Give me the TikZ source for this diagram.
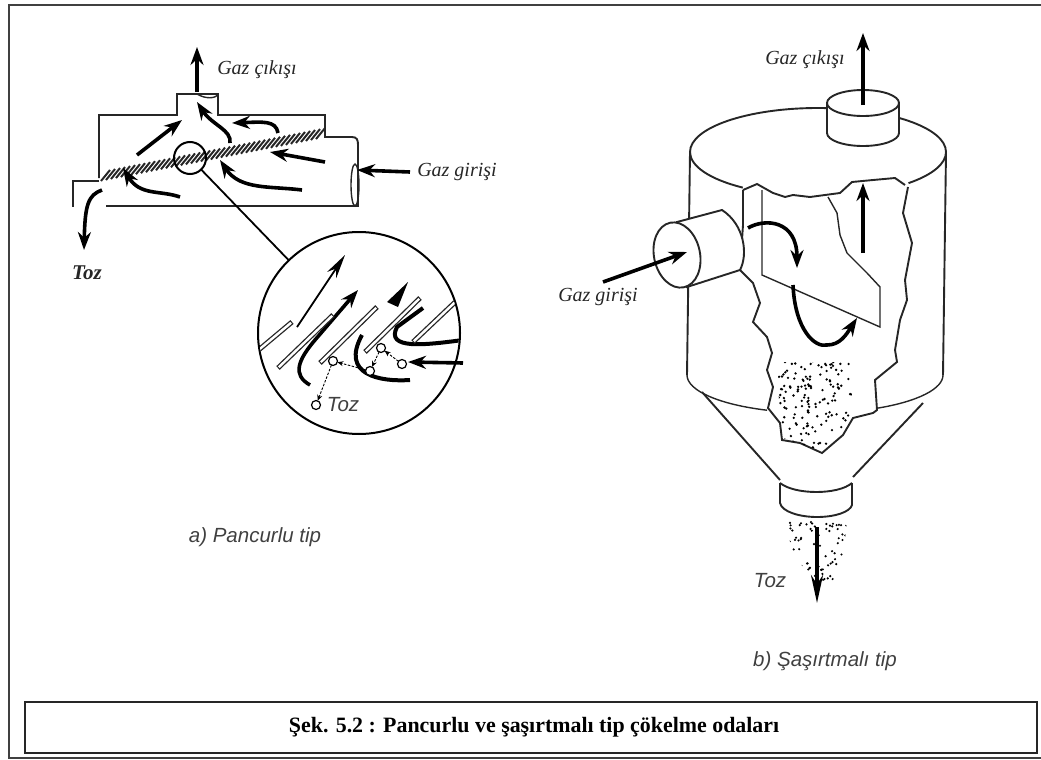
\documentclass[tikz,border=0pt]{standalone}
\usepackage{fontspec}
\setmainfont{Liberation Serif}
\setsansfont{Liberation Sans}
\usetikzlibrary{arrows.meta}

\begin{document}
\begin{tikzpicture}[
x=1pt, y=-1pt,
wall/.style={line width=1.9pt, black!85},
thin wall/.style={line width=1.4pt, black!85},
flow/.style={-{Stealth[length=18pt, width=13pt]}, line width=3.6pt, black},
thin flow/.style={-{Stealth[length=24pt, width=11pt]}, line width=1.8pt, black},
stroke/.style={line width=4pt, black},
particle/.style={circle, draw, line width=1.2pt, fill=white, minimum size=9pt, inner sep=0pt, outer sep=0pt},
drop/.style={dashed, dash pattern=on 2.5pt off 1.5pt, line width=0.9pt, -{Stealth[length=6pt, width=5pt]}},
lbl/.style={font=\fontsize{20}{22}\selectfont\itshape, black!85, inner sep=0pt},
sanslbl/.style={font=\fontsize{20.5}{23}\selectfont\sffamily\itshape, black!75, inner sep=0pt}
]
\useasboundingbox (0,0) rectangle (1041,760);
\draw[line width=2.6pt, black!75] (1041,5) -- (9,5) -- (9,758) -- (1041,758);
\node[draw=black!85, line width=2.2pt, minimum width=1012pt, minimum height=51pt, anchor=north west, inner sep=0pt,
      font=\fontsize{21.9}{25}\selectfont\bfseries] (caption) at (24,701) {\hspace*{6pt}\raisebox{-1.5pt}{Şek. 5.2 : Pancurlu ve şaşırtmalı tip çökelme odaları}};

\draw[wall] (99,178) -- (99,115) -- (177,115) -- (177,94) -- (218,94) -- (218,115) -- (325,115) -- (325,137) -- (352,137) .. controls (357,137) and (358,140) .. (358,145) -- (358,206) -- (106,206);
\draw[wall] (99,181) -- (73,181) -- (73,207);
\draw[thin wall] (197,94) .. controls (205,99) and (216,99) .. (218,94);
\draw[thin wall] (355,185) ellipse [x radius=4, y radius=21];
\foreach \k in {0,...,43}
  \draw[line width=2pt, black!85] ({101+5*\k},{181-0.975*\k}) -- ({110+5*\k},{170-0.975*\k});
\node[circle, draw, line width=2pt, minimum size=32pt, inner sep=0pt, outer sep=0pt] (lens) at (190,158) {};
\node[circle, draw, line width=2pt, minimum size=202pt, inner sep=0pt, outer sep=0pt] (detail) at (359,333) {};
\draw[line width=1.8pt] (lens) -- (detail);

\draw[flow] (197,92) -- (197,47);
\draw[flow] (137,155) -- (182,120);
\draw[flow] (230,143) .. controls (232,130) and (212,125) .. (197,102);
\draw[flow] (278,133) .. controls (276,120) and (262,122) .. (232,123);
\draw[flow] (325,162) -- (270,152);
\draw[flow] (302,190) .. controls (270,186) and (240,190) .. (220,160);
\draw[flow] (180,197) .. controls (160,190) and (140,196) .. (123,168);
\draw[flow] (410,172) -- (357,170);
\draw[flow] (102,190) .. controls (88,195) and (85,205) .. (84,250);

\node[lbl] (outleft) at (257,70) {Gaz çıkışı};
\node[lbl] (inleft) at (457,172) {Gaz girişi};
\node[lbl, font=\fontsize{21}{23}\selectfont\bfseries\itshape] (tozleft) at (87,273) {Toz};
\node[sanslbl] (typea) at (255,537) {a) Pancurlu tip};

\draw[thin flow] (297,327) -- (345,255);
\draw[flow] (310,385) .. controls (292,375) and (298,360) .. (315,340) -- (358,290);
\fill (408,282) -- (387,302) -- (398,307) -- cycle;
\draw[flow] (463,363) -- (408,362);
\begin{scope}
\clip (359,333) circle (100);
\draw[stroke] (410,380) .. controls (380,382) and (340,375) .. (362,335);
\draw[stroke] (463,340) .. controls (425,345) and (385,350) .. (397,327) -- (423,308);
\foreach \ax/\ay/\bx/\by in {255/353/292/322, 278/368/333/315, 320/363/377/307, 365/352/420/298, 413/342/470/288} {
  \draw[line width=5pt, black!85] (\ax,\ay) -- (\bx,\by);
  \draw[line width=2.4pt, white, shorten >=1.2pt, shorten <=1.2pt] (\ax,\ay) -- (\bx,\by);
}
\end{scope}

\node[particle] (pa) at (333,361) {};
\node[particle] (pb) at (381,348) {};
\node[particle] (pc) at (370,371) {};
\node[particle] (pd) at (402,364) {};
\node[particle] (pe) at (316,405) {};
\node[sanslbl] (tozdetail) at (343,405) {Toz};
\draw[drop] (pa) -- (pe);
\draw[drop] (pb) -- (pc);
\draw[drop] (pd) -- (pb);
\draw[drop] (pc) -- (pa);

\draw[wall] (690,152) -- (687,375);
\draw[wall] (946,152) -- (943,375);
\draw[wall] (690,152) arc [start angle=180, end angle=360, x radius=128, y radius=44];
\draw[wall] (690,152) arc [start angle=180, end angle=126, x radius=128, y radius=44];
\draw[wall] (946,152) arc [start angle=0, end angle=45, x radius=128, y radius=44];
\draw[thin wall] (687,375) arc [start angle=180, end angle=112, x radius=128, y radius=38];
\draw[thin wall] (943,375) arc [start angle=0, end angle=61, x radius=128, y radius=38];
\draw[wall] (702,392) -- (780,480);
\draw[wall] (923,403) -- (853,477);
\draw[wall] (780,483) .. controls (795,495) and (838,495) .. (852,483);
\draw[wall] (780,483) -- (780,503) .. controls (782,512) and (800,517) .. (817,517) .. controls (835,517) and (850,512) .. (852,505) -- (852,483);

\draw[wall] (743,190) -- (757,184) -- (773,193) -- (785,197) -- (793,195) -- (810,197) -- (840,193) -- (852,182) -- (873,180) -- (895,178) -- (905,185);
\draw[wall] (743,190) -- (743,225) -- (740,270) -- (753,283) -- (760,303) -- (753,322) -- (767,337) -- (772,353) -- (767,370) -- (773,387) -- (768,408) -- (780,423) -- (782,440) -- (800,443) -- (822,453) -- (843,435) -- (853,418) -- (873,413) -- (877,410) -- (875,380) -- (897,362) -- (895,350) -- (900,320) -- (907,300) -- (905,280) -- (912,243) -- (903,213) -- (908,187);
\draw[thin wall] (828,197) -- (837,213) -- (840,235) -- (847,253) -- (867,273) -- (880,287) -- (880,327) -- (762,275) -- (762,190);

\begin{scope}
\clip (778,362) rectangle (855,455);
\clip (775,360) -- (850,360) -- (853,416) -- (822,451) -- (783,438) -- cycle;
\pgfmathsetseed{52}
\foreach \k in {1,...,170}
  \fill ({775+80*rnd},{360+95*rnd}) circle (1.3);
\end{scope}
\begin{scope}
\clip (783,520) -- (847,520) -- (843,560) -- (832,582) -- (820,582) -- (796,560) -- cycle;
\pgfmathsetseed{17}
\foreach \k in {1,...,90}
  \fill ({783+64*rnd},{520+62*rnd}) circle (1.2);
\end{scope}

\draw[wall, fill=white] (827,103) -- (827,133) arc [start angle=180, end angle=0, x radius=36, y radius=13] -- (899,103);
\draw[wall, fill=white] (863,103) ellipse [x radius=36, y radius=13];
\draw[wall, fill=white] (677,222) -- (722,210) .. controls (745,225) and (748,255) .. (740,270) -- (687,287) -- cycle;
\draw[wall, fill=white, rotate around={12:(677,255)}] (677,255) ellipse [x radius=23, y radius=33];

\draw[flow] (863,105) -- (863,33);
\draw[flow] (603,282) -- (687,252);
\draw[flow] (748,228) .. controls (765,218) and (797,220) .. (797,268);
\draw[flow] (863,253) -- (863,183);
\draw[flow] (793,285) .. controls (795,330) and (815,348) .. (827,345) .. controls (840,345) and (846,335) .. (857,318);
\draw[flow, -{Stealth[length=28pt, width=12pt]}] (817,527) -- (817,603);

\node[lbl] (outright) at (805,60) {Gaz çıkışı};
\node[lbl] (inright) at (598,297) {Gaz girişi};
\node[sanslbl] (tozright) at (770,581) {Toz};
\node[sanslbl] (typeb) at (825,661) {b) Şaşırtmalı tip};
\end{tikzpicture}
\end{document}
